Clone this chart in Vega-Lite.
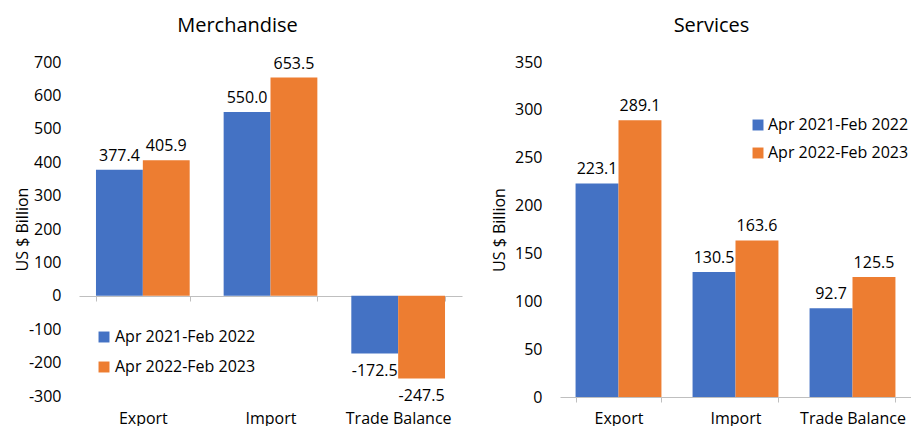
{
  "$schema": "https://vega.github.io/schema/vega-lite/v6.json",
  "background": "white",
  "padding": {"left": 14, "top": 16, "right": 0, "bottom": 0},
  "config": {
    "font": "Open Sans",
    "locale": {
      "number": {"decimal": ".", "thousands": ",", "grouping": [3], "currency": ["$", ""], "minus": "-"}
    },
    "view": {"stroke": null},
    "axis": {
      "grid": false,
      "labelFont": "Open Sans",
      "labelFontSize": 16,
      "labelColor": "#000000",
      "titleFont": "Open Sans",
      "titleFontSize": 16,
      "titleFontWeight": "normal",
      "titleColor": "#000000"
    },
    "title": {"font": "Open Sans", "fontSize": 20, "fontWeight": "normal", "color": "#000000", "offset": 18},
    "legend": {
      "labelFont": "Open Sans",
      "labelFontSize": 16,
      "labelColor": "#000000",
      "symbolType": "square",
      "symbolSize": 120,
      "symbolStrokeWidth": 0,
      "rowPadding": 12,
      "labelOffset": 3
    },
    "concat": {"spacing": 29}
  },
  "datasets": {
    "merchandise": [
      {"category": "Export", "period": "Apr 2021-Feb 2022", "value": 377.4},
      {"category": "Export", "period": "Apr 2022-Feb 2023", "value": 405.9},
      {"category": "Import", "period": "Apr 2021-Feb 2022", "value": 550.0},
      {"category": "Import", "period": "Apr 2022-Feb 2023", "value": 653.5},
      {"category": "Trade Balance", "period": "Apr 2021-Feb 2022", "value": -172.5},
      {"category": "Trade Balance", "period": "Apr 2022-Feb 2023", "value": -247.5}
    ],
    "services": [
      {"category": "Export", "period": "Apr 2021-Feb 2022", "value": 223.1},
      {"category": "Export", "period": "Apr 2022-Feb 2023", "value": 289.1},
      {"category": "Import", "period": "Apr 2021-Feb 2022", "value": 130.5},
      {"category": "Import", "period": "Apr 2022-Feb 2023", "value": 163.6},
      {"category": "Trade Balance", "period": "Apr 2021-Feb 2022", "value": 92.7},
      {"category": "Trade Balance", "period": "Apr 2022-Feb 2023", "value": 125.5}
    ]
  },
  "resolve": {
    "scale": {"x": "independent", "y": "independent", "xOffset": "independent"},
    "legend": {"color": "independent"}
  },
  "hconcat": [
    {
      "title": {"text": "Merchandise", "dx": -33},
      "width": 383,
      "height": 334,
      "data": {"name": "merchandise"},
      "encoding": {
        "x": {
          "field": "category",
          "type": "nominal",
          "sort": ["Export", "Import", "Trade Balance"],
          "scale": {"paddingInner": 0.266, "paddingOuter": 0.133},
          "axis": {
            "title": null,
            "labelAngle": 0,
            "offset": -100,
            "domainColor": "#bfbfbf",
            "tickColor": "#bfbfbf",
            "tickSize": 5,
            "tickBand": "extent",
            "labelPadding": 109
          }
        },
        "xOffset": {
          "field": "period",
          "sort": ["Apr 2021-Feb 2022", "Apr 2022-Feb 2023"],
          "scale": {"paddingInner": 0, "paddingOuter": 0}
        },
        "y": {
          "field": "value",
          "type": "quantitative",
          "scale": {"domain": [-300, 700], "nice": false},
          "axis": {
            "title": "US $ Billion",
            "values": [-300, -200, -100, 0, 100, 200, 300, 400, 500, 600, 700],
            "domain": false,
            "ticks": false,
            "tickSize": 0,
            "labelPadding": 18,
            "titlePadding": -2
          }
        }
      },
      "layer": [
        {
          "mark": {"type": "bar"},
          "encoding": {
            "color": {
              "field": "period",
              "type": "nominal",
              "scale": {
                "domain": ["Apr 2021-Feb 2022", "Apr 2022-Feb 2023"],
                "range": ["#4472C4", "#ED7D31"]
              },
              "legend": {"title": null, "orient": "none", "legendX": 17, "legendY": 267, "rowPadding": 14}
            }
          }
        },
        {
          "transform": [{"filter": "datum.value >= 0"}],
          "mark": {"type": "text", "baseline": "alphabetic", "dy": -9, "fontSize": 16, "color": "#000000"},
          "encoding": {"text": {"field": "value", "type": "quantitative", "format": ".1f"}}
        },
        {
          "transform": [{"filter": "datum.value < 0"}],
          "mark": {"type": "text", "baseline": "alphabetic", "dy": 23, "fontSize": 16, "color": "#000000"},
          "encoding": {"text": {"field": "value", "type": "quantitative", "format": ".1f"}}
        }
      ]
    },
    {
      "title": {"text": "Services", "dx": -24},
      "width": 351,
      "height": 335,
      "data": {"name": "services"},
      "encoding": {
        "x": {
          "field": "category",
          "type": "nominal",
          "sort": ["Export", "Import", "Trade Balance"],
          "scale": {"paddingInner": 0.266, "paddingOuter": 0.133},
          "axis": {
            "title": null,
            "labelAngle": 0,
            "domainColor": "#bfbfbf",
            "tickColor": "#bfbfbf",
            "tickSize": 5,
            "tickBand": "extent",
            "labelPadding": 8
          }
        },
        "xOffset": {
          "field": "period",
          "sort": ["Apr 2021-Feb 2022", "Apr 2022-Feb 2023"],
          "scale": {"paddingInner": 0, "paddingOuter": 0}
        },
        "y": {
          "field": "value",
          "type": "quantitative",
          "scale": {"domain": [0, 350], "nice": false},
          "axis": {
            "title": "US $ Billion",
            "values": [0, 50, 100, 150, 200, 250, 300, 350],
            "domain": false,
            "ticks": false,
            "tickSize": 0,
            "labelPadding": 18,
            "titlePadding": 7
          }
        }
      },
      "layer": [
        {
          "mark": {"type": "bar"},
          "encoding": {
            "color": {
              "field": "period",
              "type": "nominal",
              "scale": {
                "domain": ["Apr 2021-Feb 2022", "Apr 2022-Feb 2023"],
                "range": ["#4472C4", "#ED7D31"]
              },
              "legend": {"title": null, "orient": "none", "legendX": 190, "legendY": 55, "rowPadding": 12, "labelOffset": 2}
            }
          }
        },
        {
          "mark": {"type": "text", "baseline": "alphabetic", "dy": -9, "fontSize": 16, "color": "#000000"},
          "encoding": {"text": {"field": "value", "type": "quantitative", "format": ".1f"}}
        }
      ]
    }
  ]
}
